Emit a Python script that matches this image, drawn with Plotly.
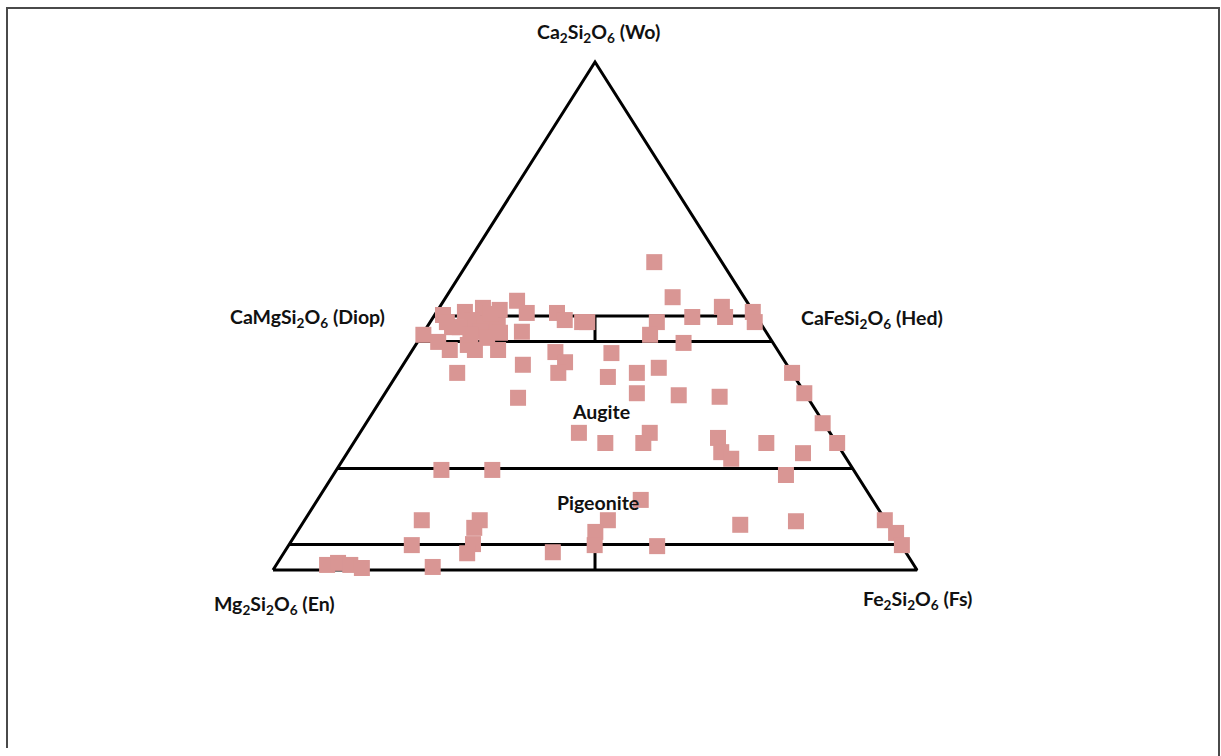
import numpy as np
import plotly.graph_objects as go

# Pyroxene compositions (mol %): Wo (Ca2Si2O6) and Fs (Fe2Si2O6); En = 100 - Wo - Fs
wo = [60.6, 53.7, 53.0, 51.8, 50.8, 48.8, 49.8, 49.8, 48.8, 48.8,
      46.3, 44.7, 42.7, 38.0, 38.8, 39.8, 38.8, 33.9, 34.8, 34.4,
      34.1, 34.8, 28.9, 25.0, 27.0, 25.0, 27.0, 25.0, 26.0, 23.2,
      21.9, 25.0, 23.0, 18.7, 19.7, 19.7, 13.8, 9.8, 9.8, 8.3,
      9.8, 7.5, 4.9, 4.9, 5.1, 3.3, 3.5, 4.7, 8.9, 9.6,
      9.8, 7.3, 4.9, 1.0, 1.4, 1.0, 0.4, 0.6,
      50.6, 50.2, 50.8, 51.6, 51.2, 47.8, 49.2, 48.6, 48.2, 46.9,
      46.3, 44.9, 43.3, 44.3, 43.3, 43.3, 50.6, 49.2, 48.8, 38.8,
      40.4, 42.9, 40.9, 38.8, 47.8, 46.9, 45.7, 46.7, 46.3, 48.8, 50.4]
fs = [28.9, 35.2, 11.4, 43.8, 49.1, 50.4, 40.2, 45.3, 35.2, 24.4,
      35.4, 41.4, 31.2, 33.0, 37.1, 40.0, 61.2, 21.1, 39.1, 45.8,
      52.3, 65.1, 70.9, 75.1, 34.0, 39.1, 45.0, 45.0, 56.1, 58.0,
      60.2, 64.1, 70.8, 70.3, 16.3, 24.2, 50.2, 18.2, 27.2, 27.1,
      47.1, 46.3, 47.5, 19.1, 28.5, 28.5, 41.7, 57.3, 68.1, 76.4,
      90.1, 93.1, 95.2, 7.9, 9.4, 11.5, 13.6, 24.5,
      14.1, 1.3, 4.4, 6.8, 9.6, 3.9, 6.3, 8.6, 10.8, 15.2,
      0.2, 3.2, 5.8, 8.1, 9.7, 13.3, 18.8, 20.7, 23.6, 9.2,
      18.6, 22.4, 24.9, 24.9, 5.1, 8.7, 10.4, 11.9, 7.5, 2.6, 8.5]

# Classification boundaries, as (Wo, Fs) end points
triangle_wo = [0, 100, 0, 0]
triangle_fs = [0, 0, 100, 0]
boundary_wo = [50, 45, 20, 5]           # horizontal lines of constant Wo
divider_segments = [(45, 50), (0, 5)]   # Wo ranges of the En = Fs divider

vertex_labels = ["<b>Ca<sub>2</sub>Si<sub>2</sub>O<sub>6</sub> (Wo)</b>",
                 "<b>CaMgSi<sub>2</sub>O<sub>6</sub> (Diop)</b>",
                 "<b>CaFeSi<sub>2</sub>O<sub>6</sub> (Hed)</b>",
                 "<b>Mg<sub>2</sub>Si<sub>2</sub>O<sub>6</sub> (En)</b>",
                 "<b>Fe<sub>2</sub>Si<sub>2</sub>O<sub>6</sub> (Fs)</b>"]
field_labels = ["<b>Augite</b>", "<b>Pigeonite</b>"]


def to_xy(w, f):
    w = np.asarray(w, dtype=float)
    f = np.asarray(f, dtype=float)
    return f + w / 2.0, w


fig = go.Figure()
line_style = dict(color="black", width=3)

tx, ty = to_xy(triangle_wo, triangle_fs)
fig.add_trace(go.Scatter(x=tx, y=ty, mode="lines", line=line_style, hoverinfo="skip"))

for w in boundary_wo:
    lx, ly = to_xy([w, w], [0, 100 - w])
    fig.add_trace(go.Scatter(x=lx, y=ly, mode="lines", line=line_style, hoverinfo="skip"))

for w0, w1 in divider_segments:
    lx, ly = to_xy([w0, w1], [(100 - w0) / 2, (100 - w1) / 2])
    fig.add_trace(go.Scatter(x=lx, y=ly, mode="lines", line=line_style, hoverinfo="skip"))

px, py = to_xy(wo, fs)
fig.add_trace(go.Scatter(x=px, y=py, mode="markers",
                         marker=dict(symbol="square", size=16, color="#D99694",
                                     line=dict(width=0)),
                         hoverinfo="skip"))

font = dict(family="Lato, Open Sans, sans-serif", size=19.5, color="#111111")
label_pos = [(50.5, 105.7), (5.3, 49.6), (93.0, 49.4), (0.3, -6.9), (100.0, -5.9)]
for txt, (x, y) in zip(vertex_labels, label_pos):
    fig.add_annotation(x=x, y=y, text=txt, showarrow=False, font=font,
                       xanchor="center", yanchor="middle")
field_pos = [(50.9, 31.3), (50.5, 13.2)]
for txt, (x, y) in zip(field_labels, field_pos):
    fig.add_annotation(x=x, y=y, text=txt, showarrow=False, font=font,
                       xanchor="center", yanchor="middle")

# frame (left, top, right) around the picture
fig.add_shape(type="path", xref="paper", yref="paper",
              path=f"M {7/1221} {1-748/756} L {7/1221} {1-8/756} L {1219/1221} {1-8/756} L {1219/1221} 0",
              line=dict(color="#4a4a4a", width=2))

fig.update_layout(
    width=1221, height=756,
    margin=dict(l=0, r=0, t=0, b=0),
    paper_bgcolor="white", plot_bgcolor="white",
    showlegend=False,
    xaxis=dict(range=[-42.39, 147.20], visible=False, fixedrange=True),
    yaxis=dict(range=[-36.61, 112.20], visible=False, fixedrange=True),
)

fig.write_html("out.html", config={"displayModeBar": False},
               post_script="document.body.style.margin='0';document.body.style.overflow='hidden';")
